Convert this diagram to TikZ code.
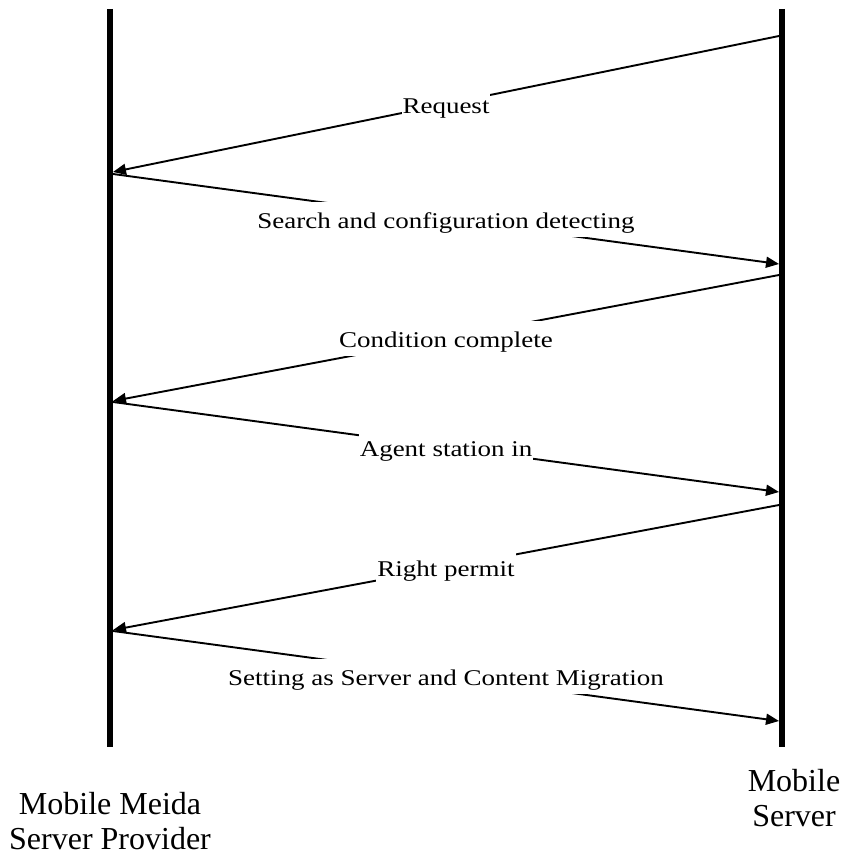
\documentclass[tikz,border=0pt]{standalone}
\usepackage{fontspec}
\setmainfont{Liberation Serif}
\newfontfamily\msgfont[FakeStretch=1.2]{Liberation Serif}
\usetikzlibrary{arrows.meta}

\tikzset{
  lifeline/.style={line width=6pt},
  msg/.style={line width=1.9pt, -{Triangle[length=13pt,width=11pt]}},
  msglabel/.style={fill=white, inner xsep=1pt, inner ysep=0pt,
    text height=26.5pt, text depth=8.5pt,
    font=\msgfont\fontsize{22.5}{27}\selectfont},
  party/.style={align=center, inner sep=0pt,
    font=\fontsize{32}{35}\selectfont}
}

\begin{document}
\begin{tikzpicture}[x=1pt,y=-1pt]
  \useasboundingbox (0,0) rectangle (846,859);

  % lifelines
  \coordinate (Ltop) at (110,9);
  \coordinate (Lbot) at (110,747);
  \coordinate (Rtop) at (782,9);
  \coordinate (Rbot) at (782,747);
  \draw[lifeline] (Ltop) -- (Lbot);
  \draw[lifeline] (Rtop) -- (Rbot);

  % message end points on the lifelines
  \coordinate (r1) at (779,36);
  \coordinate (l1) at (113,172);
  \coordinate (l1s) at (113,174);
  \coordinate (r2) at (779,264);
  \coordinate (r2s) at (779,275);
  \coordinate (l2) at (113,401);
  \coordinate (l2s) at (113,402);
  \coordinate (r3) at (779,492);
  \coordinate (r3s) at (779,505);
  \coordinate (l3) at (113,630);
  \coordinate (l3s) at (113,631);
  \coordinate (r4) at (779,721);

  % messages
  \draw[msg] (r1) -- node[msglabel] (m1) {Request} (l1);
  \draw[msg] (l1s) -- node[msglabel] (m2) {Search and configuration detecting} (r2);
  \draw[msg] (r2s) -- node[msglabel] (m3) {Condition complete} (l2);
  \draw[msg] (l2s) -- node[msglabel] (m4) {Agent station in} (r3);
  \draw[msg] (r3s) -- node[msglabel] (m5) {Right permit} (l3);
  \draw[msg] (l3s) -- node[msglabel] (m6) {Setting as Server and Content Migration} (r4);

  % participants
  \node[party] (provider) at (110,821) {Mobile Meida\\Server Provider};
  \node[party] (server) at (794,798) {Mobile\\Server};
\end{tikzpicture}
\end{document}
